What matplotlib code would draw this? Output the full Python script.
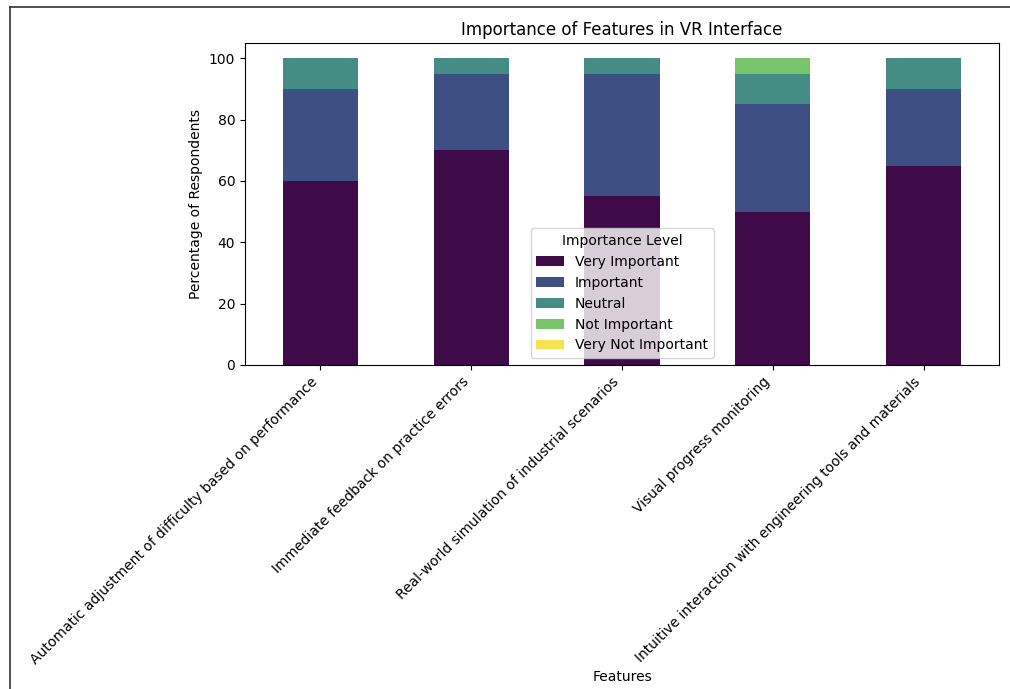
import matplotlib
matplotlib.use("Agg")
import matplotlib.pyplot as plt
from matplotlib.lines import Line2D
import pandas as pd

features = [
    "Automatic adjustment of difficulty based on performance",
    "Immediate feedback on practice errors",
    "Real-world simulation of industrial scenarios",
    "Visual progress monitoring",
    "Intuitive interaction with engineering tools and materials",
]
very_important = [60, 70, 55, 50, 65]
important = [30, 25, 40, 35, 25]
neutral = [10, 5, 5, 10, 10]
not_important = [0, 0, 0, 5, 0]
very_not_important = [0, 0, 0, 0, 0]

df = pd.DataFrame({
    "Very Important": very_important,
    "Important": important,
    "Neutral": neutral,
    "Not Important": not_important,
    "Very Not Important": very_not_important,
}, index=features)

# viridis as it appears in the screenshot (slightly washed out)
colors = ["#3f0a48", "#3e4f84", "#458c85", "#79c56c", "#f5e253"]

fig = plt.figure(figsize=(10.1, 6.89), dpi=100)
ax = fig.add_axes([0.2426, 0.4703, 0.7465, 0.4673])

df.plot(kind="bar", stacked=True, color=colors, ax=ax)

ax.set_title("Importance of Features in VR Interface", fontsize=12)
ax.set_xlabel("Features", labelpad=2)
ax.set_ylabel("Percentage of Respondents")
plt.setp(ax.get_xticklabels(), rotation=45, ha="right")
ax.legend(title="Importance Level", loc="lower center")

# screenshot frame (top and left edges)
fig.add_artist(Line2D([0.0099, 1.0], [0.9898, 0.9898], color="#333333", lw=1.2))
fig.add_artist(Line2D([0.0099, 0.0099], [0.0, 0.9898], color="#333333", lw=1.2))

fig.savefig("out.png", dpi=100)
